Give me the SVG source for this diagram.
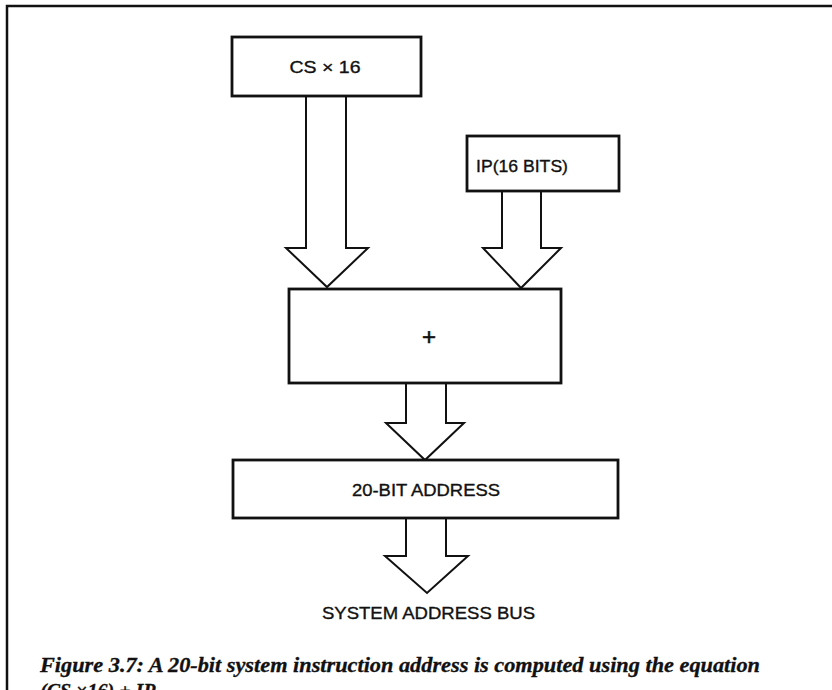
<svg xmlns="http://www.w3.org/2000/svg" width="832" height="690" viewBox="0 0 832 690">
  <style>
    .frame { fill: none; stroke: #111; stroke-width: 2.5; }
    .box { fill: #fff; stroke: #111; stroke-width: 2.8; }
    .bus { fill: #fff; stroke: #111; stroke-width: 2; stroke-linejoin: miter; }
    .lbl { font-family: "Liberation Sans", Arial, Helvetica, sans-serif; font-size: 17px; fill: #111; stroke: #111; stroke-width: 0.35; text-anchor: middle; }
    .plus { font-size: 24px; stroke-width: 0.6; }
    .cap { font-family: "Liberation Serif", "Times New Roman", serif; font-size: 20px; font-weight: bold; font-style: italic; fill: #111; stroke: #111; stroke-width: 0.3; }
  </style>
  <rect width="832" height="690" fill="#fff"/>

  <!-- page frame: top rule and left rule -->
  <path class="frame" d="M7,690 L7,6 L832,6"/>

  <!-- bus arrows between blocks -->
  <g id="connectors">
    <path class="bus" d="M306,96 L306,248 L286,248 L327,287 L368,248 L346,248 L346,96"/>
    <path class="bus" d="M502,191 L502,248 L483,248 L521,288 L561,248 L541,248 L541,191"/>
    <path class="bus" d="M406,383 L406,423 L386,423 L425,460 L464,423 L446,423 L446,383"/>
    <path class="bus" d="M406,518 L406,556 L385,556 L427,593 L468,556 L446,556 L446,518"/>
  </g>

  <g id="cs">
    <rect class="box" x="232" y="37" width="189" height="59"/>
    <text class="lbl" x="325" y="73" textLength="71" lengthAdjust="spacingAndGlyphs">CS × 16</text>
  </g>

  <g id="ip">
    <rect class="box" x="467" y="136" width="152" height="55"/>
    <text class="lbl" x="522" y="172" textLength="92" lengthAdjust="spacingAndGlyphs">IP(16 BITS)</text>
  </g>

  <g id="adder">
    <rect class="box" x="289" y="289" width="272" height="94"/>
    <text class="lbl plus" x="429" y="345">+</text>
  </g>

  <g id="address">
    <rect class="box" x="233" y="460" width="385" height="58"/>
    <text class="lbl" x="426" y="496" textLength="148" lengthAdjust="spacingAndGlyphs">20-BIT ADDRESS</text>
  </g>

  <g id="system-bus">
    <text class="lbl" x="428.5" y="619" textLength="213" lengthAdjust="spacingAndGlyphs">SYSTEM ADDRESS BUS</text>
  </g>

  <!-- caption; its second line runs off the bottom edge of the page -->
  <text class="cap" x="40" y="672" textLength="720" lengthAdjust="spacingAndGlyphs">Figure 3.7: A 20-bit system instruction address is computed using the equation</text>
  <text class="cap" x="40" y="698">(CS ×16) + IP</text>
</svg>
